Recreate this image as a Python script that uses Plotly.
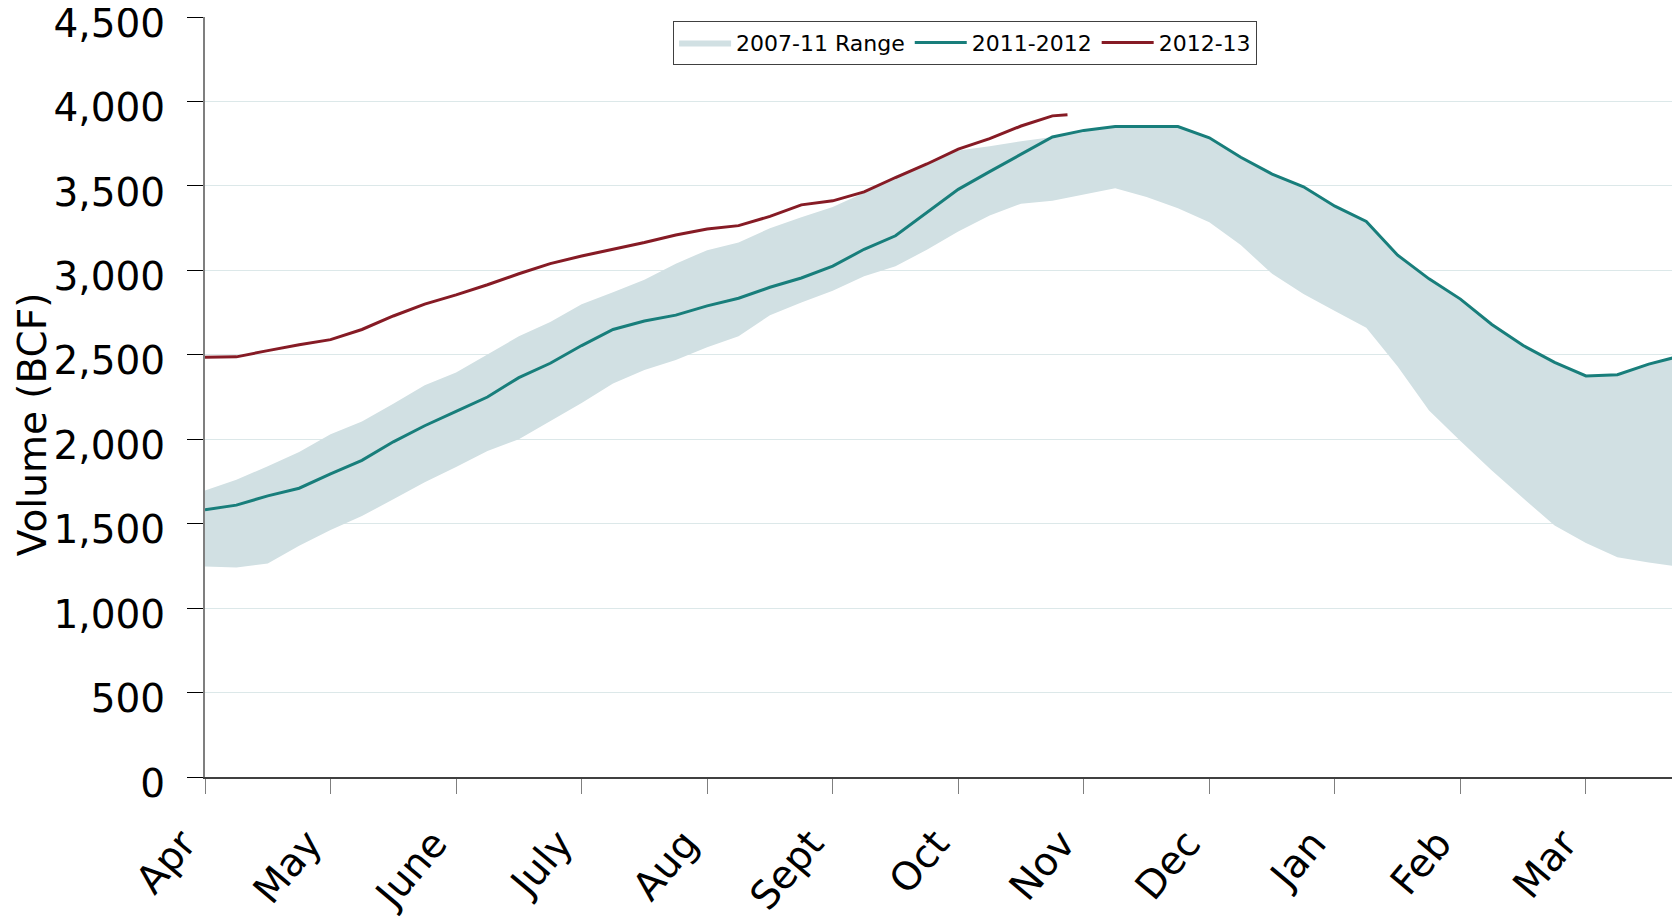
import plotly.graph_objects as go

# Storage-year position in months after April 1 (0 = Apr, 11 = Mar)
month_pos = [0.00, 0.25, 0.50, 0.75, 1.00, 1.25, 1.50, 1.75, 2.00, 2.25, 2.50, 2.75,
             3.00, 3.25, 3.50, 3.75, 4.00, 4.25, 4.50, 4.75, 5.00, 5.25, 5.50, 5.75,
             6.00, 6.25, 6.50, 6.75, 7.00, 7.25, 7.50, 7.75, 8.00, 8.25, 8.50, 8.75,
             9.00, 9.25, 9.50, 9.75, 10.00, 10.25, 10.50, 10.75, 11.00, 11.25, 11.50, 11.72]

range_low = [1247, 1240, 1265, 1370, 1462, 1545, 1645, 1745, 1835, 1930, 2000, 2105,
             2215, 2330, 2410, 2470, 2545, 2610, 2735, 2810, 2880, 2965, 3025, 3122,
             3230, 3325, 3395, 3412, 3450, 3487, 3435, 3368, 3285, 3150, 2980, 2860,
             2760, 2660, 2431, 2170, 1990, 1815, 1650, 1490, 1385, 1302, 1270, 1247]

range_high = [1697, 1760, 1840, 1925, 2030, 2105, 2210, 2320, 2395, 2505, 2610, 2695,
              2800, 2870, 2945, 3040, 3120, 3165, 3250, 3315, 3375, 3460, 3560, 3635,
              3710, 3735, 3765, 3790, 3829, 3852, 3852, 3852, 3785, 3670, 3570, 3495,
              3380, 3290, 3090, 2950, 2830, 2680, 2555, 2455, 2375, 2382, 2445, 2487]

s2011_12 = [1583, 1610, 1665, 1710, 1795, 1875, 1985, 2080, 2165, 2250, 2365, 2450,
            2555, 2650, 2700, 2735, 2790, 2835, 2900, 2955, 3025, 3125, 3205, 3343,
            3480, 3585, 3690, 3790, 3829, 3852, 3852, 3852, 3785, 3670, 3570, 3495,
            3380, 3290, 3090, 2950, 2830, 2680, 2555, 2455, 2375, 2382, 2445, 2487]

month_pos_1213 = [0.00, 0.25, 0.50, 0.75, 1.00, 1.25, 1.50, 1.75, 2.00, 2.25, 2.50, 2.75,
                  3.00, 3.25, 3.50, 3.75, 4.00, 4.25, 4.50, 4.75, 5.00, 5.25, 5.50, 5.75,
                  6.00, 6.25, 6.50, 6.75, 6.87]
s2012_13 = [2485, 2488, 2525, 2560, 2590, 2650, 2730, 2800, 2855, 2915, 2980, 3040,
            3085, 3125, 3165, 3210, 3245, 3265, 3320, 3388, 3412, 3465, 3550, 3630,
            3718, 3780, 3855, 3915, 3922]

month_ticks = [0, 1, 2, 3, 4, 5, 6, 7, 8, 9, 10, 11]
month_labels = ["Apr", "May", "June", "July", "Aug", "Sept", "Oct", "Nov", "Dec", "Jan", "Feb", "Mar"]
volume_ticks = [0, 500, 1000, 1500, 2000, 2500, 3000, 3500, 4000, 4500]

BAND = "#d1e0e3"
TEAL = "#187e7b"
RED = "#861b25"
FONT = "DejaVu Sans"

fig = go.Figure()
fig.add_trace(go.Scatter(x=month_pos, y=range_low, mode="lines", line=dict(width=0, color=BAND),
                         showlegend=False, hoverinfo="skip"))
fig.add_trace(go.Scatter(x=month_pos, y=range_high, mode="lines", line=dict(width=0, color=BAND),
                         fill="tonexty", fillcolor=BAND, name="2007-11 Range"))
fig.add_trace(go.Scatter(x=month_pos, y=s2011_12, mode="lines", line=dict(width=3, color=TEAL),
                         name="2011-2012"))
fig.add_trace(go.Scatter(x=month_pos_1213, y=s2012_13, mode="lines", line=dict(width=3, color=RED),
                         name="2012-13"))

fig.update_layout(
    width=1672, height=911,
    paper_bgcolor="white", plot_bgcolor="white",
    margin=dict(l=197, r=3, t=9, b=142, autoexpand=False),
    font=dict(family=FONT, color="black"),
    legend=dict(orientation="h", x=0.318, y=0.995, xanchor="left", yanchor="top",
                bordercolor="#404040", borderwidth=1, bgcolor="white",
                font=dict(size=22, family=FONT), itemwidth=52, traceorder="normal"),
    annotations=[dict(text="Volume (BCF)", textangle=-90, xref="paper", yref="paper",
                      x=-197 / 1472, y=0.4636, xanchor="left", yanchor="middle",
                      showarrow=False, font=dict(size=39, family=FONT, color="black"))],
)
fig.update_xaxes(range=[0, 11.725], tickvals=month_ticks, ticktext=month_labels,
                 tickangle=-50, tickfont=dict(size=39, family=FONT),
                 ticks="outside", ticklen=15, tickcolor="#7f7f7f", tickwidth=1,
                 showline=True, linecolor="#404040", linewidth=1.5,
                 showgrid=False, zeroline=False, ticklabelstandoff=11, ticklabelshift=-22)
fig.update_yaxes(range=[0, 4500.5], tickvals=volume_ticks, tickformat=",",
                 tickfont=dict(size=39, family=FONT), ticklabeloverflow="allow",
                 ticks="outside", ticklen=16, tickcolor="black", tickwidth=1,
                 showline=True, linecolor="#7f7f7f", linewidth=2,
                 showgrid=True, gridcolor="#dce8e9", gridwidth=1,
                 zeroline=False, ticklabelstandoff=14, ticklabelshift=6)

fig.write_html("out.html")
